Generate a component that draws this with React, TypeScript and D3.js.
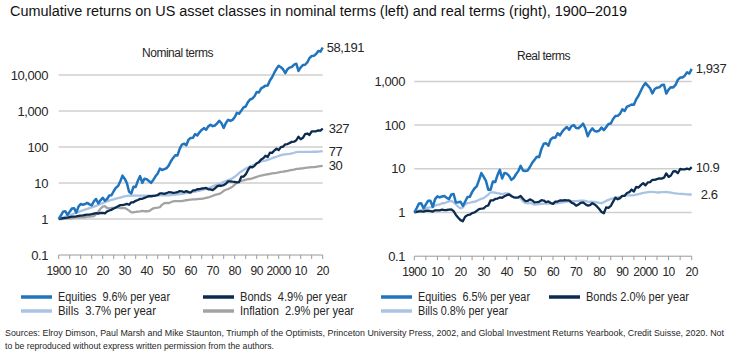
import React from 'react';
import * as d3 from 'd3';

const START_YEAR = 1900;
const END_YEAR = 2020;

const NOM_EQUITIES = [
  1, 1.25, 1.6, 1.65, 1.3, 1.6, 1.95, 2.0, 1.5, 2.2,
  2.6, 2.5, 2.6, 2.8, 2.55, 2.4, 3.1, 3.6, 2.7, 3.3,
  3.9, 3.2, 3.6, 4.5, 4.6, 5.9, 7.4, 8.2, 11.2, 16.0,
  13.2, 9.9, 5.7, 5.1, 7.9, 7.8, 11.6, 15.5, 10.1, 13.2,
  12.7, 11.4, 10.1, 12.2, 15.3, 18.4, 25.0, 23.0, 24.3, 25.7,
  30.4, 40.1, 49.7, 58.9, 58.2, 88.8, 117, 124, 112, 159,
  179, 180, 228, 208, 256, 298, 335, 301, 374, 415,
  380, 395, 452, 537, 458, 337, 462, 572, 531, 566,
  671, 887, 844, 1025, 1256, 1335, 1764, 2090, 2199, 2569,
  3378, 3273, 4271, 4596, 5060, 5126, 7053, 8676, 11570, 14890,
  18010, 16370, 14430, 11240, 14460, 16040, 16830, 19490, 20560, 12950,
  16380, 18860, 19250, 22330, 29570, 33620, 34080, 38170, 46490, 44440,
  58191,
];

const NOM_BONDS = [
  1.0, 1.03, 1.06, 1.08, 1.09, 1.13, 1.16, 1.17, 1.18, 1.22,
  1.24, 1.26, 1.3, 1.32, 1.33, 1.37, 1.42, 1.46, 1.41, 1.47,
  1.48, 1.43, 1.62, 1.72, 1.8, 1.96, 2.08, 2.25, 2.43, 2.43,
  2.52, 2.62, 2.48, 2.91, 2.91, 3.2, 3.37, 3.62, 3.64, 3.85,
  4.08, 4.31, 4.28, 4.41, 4.49, 4.64, 5.12, 5.16, 5.01, 5.2,
  5.53, 5.51, 5.3, 5.37, 5.55, 5.97, 5.89, 5.55, 5.97, 5.57,
  5.45, 6.2, 6.26, 6.7, 6.78, 7.03, 7.07, 7.32, 6.64, 6.66,
  6.32, 7.09, 8.03, 8.49, 8.38, 8.76, 9.55, 11.1, 11.1, 10.9,
  10.8, 10.4, 10.6, 14.9, 15.0, 17.3, 22.7, 28.1, 27.2, 30.0,
  35.4, 37.6, 44.9, 48.5, 57.2, 52.8, 69.5, 68.8, 79.9, 90.3,
  82.4, 99.4, 102.5, 118.8, 120.8, 130, 139, 140.6, 154, 193,
  165, 180, 229, 237, 216, 272, 270, 273, 290, 286,
  327,
];

const NOM_BILLS = [
  1.0, 1.05, 1.1, 1.16, 1.22, 1.28, 1.35, 1.42, 1.5, 1.57,
  1.65, 1.73, 1.82, 1.91, 2.01, 2.11, 2.21, 2.32, 2.45, 2.6,
  2.76, 2.94, 3.1, 3.24, 3.38, 3.52, 3.66, 3.8, 3.95, 4.1,
  4.28, 4.38, 4.42, 4.44, 4.45, 4.45, 4.46, 4.46, 4.46, 4.46,
  4.46, 4.46, 4.47, 4.48, 4.49, 4.5, 4.51, 4.52, 4.53, 4.55,
  4.57, 4.63, 4.7, 4.78, 4.87, 4.91, 4.99, 5.12, 5.28, 5.36,
  5.52, 5.67, 5.8, 5.96, 6.14, 6.35, 6.6, 6.9, 7.19, 7.56,
  8.06, 8.58, 8.96, 9.3, 9.96, 10.8, 11.4, 12.0, 12.6, 13.5,
  14.9, 16.6, 19.0, 21.0, 22.9, 25.1, 27.0, 28.7, 30.3, 32.2,
  34.9, 37.6, 39.6, 40.9, 42.1, 43.8, 46.3, 48.7, 51.3, 53.7,
  56.3, 59.6, 61.6, 62.6, 63.2, 64.0, 66.0, 69.2, 72.3, 73.3,
  73.4, 73.5, 73.5, 73.6, 73.6, 73.6, 73.7, 73.9, 74.5, 75.9,
  77.3,
];

const INFLATION = [
  1.0, 1.0, 1.0, 1.02, 1.04, 1.04, 1.05, 1.08, 1.12, 1.09,
  1.11, 1.13, 1.12, 1.17, 1.17, 1.18, 1.2, 1.36, 1.6, 1.93,
  2.22, 2.27, 2.02, 1.98, 2.02, 2.02, 2.09, 2.07, 2.02, 2.0,
  2.01, 1.88, 1.71, 1.53, 1.54, 1.57, 1.61, 1.64, 1.68, 1.64,
  1.64, 1.65, 1.81, 1.98, 2.04, 2.08, 2.13, 2.51, 2.74, 2.82,
  2.76, 2.92, 3.1, 3.12, 3.15, 3.12, 3.13, 3.23, 3.32, 3.38,
  3.44, 3.49, 3.51, 3.56, 3.61, 3.65, 3.72, 3.85, 3.96, 4.15,
  4.41, 4.65, 4.81, 4.97, 5.4, 6.07, 6.49, 6.81, 7.26, 7.92,
  8.97, 10.1, 11.0, 11.4, 11.8, 12.3, 12.8, 12.9, 13.5, 14.1,
  14.7, 15.6, 16.1, 16.6, 17.1, 17.5, 18.0, 18.5, 18.9, 19.2,
  19.7, 20.4, 20.7, 21.2, 21.6, 22.3, 23.0, 23.6, 24.6, 24.6,
  25.3, 25.6, 26.4, 26.9, 27.3, 27.5, 27.7, 28.2, 28.8, 29.4,
  30.0,
];

const REAL_EQUITIES = [
  1.0, 1.25, 1.6, 1.62, 1.25, 1.54, 1.86, 1.85, 1.34, 2.02,
  2.34, 2.21, 2.32, 2.39, 2.18, 2.03, 2.58, 2.65, 1.69, 1.71,
  1.76, 1.41, 1.78, 2.27, 2.28, 2.92, 3.54, 3.96, 5.54, 8.0,
  6.57, 5.27, 3.33, 3.33, 5.13, 4.97, 7.2, 9.45, 6.01, 8.05,
  7.74, 6.91, 5.58, 6.16, 7.5, 8.85, 11.7, 9.16, 8.87, 9.11,
  11.0, 13.7, 16.0, 18.9, 18.5, 28.5, 37.4, 38.4, 33.7, 47.0,
  52.0, 51.6, 65.0, 58.4, 70.9, 81.6, 90.1, 78.2, 94.4, 100,
  86.2, 84.9, 94.0, 108, 84.8, 55.5, 71.2, 84.0, 73.1, 71.5,
  74.8, 87.8, 76.7, 89.9, 106, 109, 138, 162, 163, 182,
  230, 210, 265, 277, 296, 293, 392, 469, 612, 776,
  914, 802, 697, 530, 669, 719, 732, 826, 836, 526,
  647, 737, 729, 830, 1083, 1223, 1230, 1354, 1614, 1512,
  1937,
];

const REAL_BONDS = [
  1.0, 1.03, 1.06, 1.06, 1.05, 1.09, 1.1, 1.08, 1.05, 1.12,
  1.12, 1.12, 1.16, 1.13, 1.14, 1.16, 1.18, 1.07, 0.88, 0.76,
  0.67, 0.63, 0.8, 0.87, 0.89, 0.97, 1.0, 1.09, 1.2, 1.22,
  1.25, 1.39, 1.45, 1.9, 1.89, 2.04, 2.09, 2.21, 2.17, 2.35,
  2.49, 2.61, 2.36, 2.23, 2.2, 2.23, 2.4, 2.06, 1.83, 1.84,
  2.0, 1.89, 1.71, 1.72, 1.76, 1.91, 1.88, 1.72, 1.8, 1.65,
  1.58, 1.78, 1.78, 1.88, 1.88, 1.93, 1.9, 1.9, 1.68, 1.6,
  1.43, 1.52, 1.67, 1.71, 1.55, 1.44, 1.47, 1.63, 1.53, 1.38,
  1.2, 1.03, 0.96, 1.31, 1.27, 1.41, 1.77, 2.18, 2.01, 2.13,
  2.41, 2.41, 2.79, 2.92, 3.35, 3.02, 3.86, 3.72, 4.23, 4.7,
  4.18, 4.87, 4.95, 5.6, 5.59, 5.83, 6.04, 5.96, 6.26, 7.85,
  6.52, 7.03, 8.67, 8.81, 7.91, 9.89, 9.75, 9.68, 10.07, 9.73,
  10.9,
];

const REAL_BILLS = [
  1.0, 1.05, 1.1, 1.14, 1.17, 1.23, 1.29, 1.31, 1.34, 1.44,
  1.49, 1.53, 1.63, 1.63, 1.72, 1.79, 1.84, 1.71, 1.53, 1.35,
  1.24, 1.3, 1.53, 1.64, 1.67, 1.74, 1.75, 1.84, 1.96, 2.05,
  2.13, 2.33, 2.58, 2.9, 2.89, 2.83, 2.77, 2.72, 2.65, 2.72,
  2.72, 2.7, 2.47, 2.26, 2.2, 2.16, 2.12, 1.8, 1.65, 1.61,
  1.66, 1.59, 1.52, 1.53, 1.55, 1.57, 1.59, 1.59, 1.59, 1.59,
  1.6, 1.62, 1.65, 1.67, 1.7, 1.74, 1.77, 1.79, 1.82, 1.82,
  1.83, 1.85, 1.86, 1.87, 1.84, 1.78, 1.76, 1.76, 1.74, 1.7,
  1.66, 1.64, 1.73, 1.84, 1.94, 2.04, 2.11, 2.22, 2.24, 2.28,
  2.37, 2.41, 2.46, 2.46, 2.46, 2.5, 2.57, 2.63, 2.71, 2.8,
  2.86, 2.92, 2.98, 2.95, 2.93, 2.87, 2.87, 2.93, 2.94, 2.98,
  2.9, 2.87, 2.78, 2.74, 2.7, 2.68, 2.66, 2.62, 2.59, 2.58,
  2.58,
];

const X_TICK_YEARS = [1900, 1910, 1920, 1930, 1940, 1950, 1960, 1970, 1980, 1990, 2000, 2010, 2020];
const X_TICK_LABELS = ['1900', '10', '20', '30', '40', '50', '60', '70', '80', '90', '2000', '10', '20'];
const LEFT_Y_TICKS = [0.1, 1, 10, 100, 1000, 10000];
const RIGHT_Y_TICKS = [0.1, 1, 10, 100, 1000];

const LEFT_END_LABELS = ['58,191', '327', '77', '30'];
const RIGHT_END_LABELS = ['1,937', '10.9', '2.6'];

const LEGEND_LEFT_ROW1 = ['Equities  9.6% per year', 'Bonds  4.9% per year'];
const LEGEND_LEFT_ROW2 = ['Bills  3.7% per year', 'Inflation  2.9% per year'];
const LEGEND_RIGHT_ROW1 = ['Equities  6.5% per year', 'Bonds 2.0% per year'];
const LEGEND_RIGHT_ROW2 = ['Bills 0.8% per year'];

const TITLE = 'Cumulative returns on US asset classes in nominal terms (left) and real terms (right), 1900\u20132019';
const SOURCE1 = 'Sources: Elroy Dimson, Paul Marsh and Mike Staunton, Triumph of the Optimists, Princeton University Press, 2002, and Global Investment Returns Yearbook, Credit Suisse, 2020. Not';
const SOURCE2 = 'to be reproduced without express written permission from the authors.';

const C_EQ = '#1f74bd';
const C_BOND = '#0c2b4e';
const C_BILL = '#a8c3e3';
const C_INF = '#a3a3a3';
const C_GRID = '#cfcfcf';
const C_TEXT = '#262626';

const FONT = "'Liberation Sans', Arial, sans-serif";

const YEARS = NOM_EQUITIES.map((_, i) => START_YEAR + i);

type Series = { values: number[]; color: string; width: number; label: string; labelDx: number };

function Panel(props: {
  x0: number; x1: number; yTop: number; yBottom: number; domainTop: number;
  ticks: number[]; labelRight: number; title: string; titleX: number; titleY: number;
  series: Series[];
}) {
  const { x0, x1, yTop, yBottom, domainTop, ticks, labelRight, title, titleX, titleY, series } = props;
  const x = d3.scaleLinear().domain([START_YEAR, END_YEAR]).range([x0, x1]);
  const y = d3.scaleLog().domain([0.1, domainTop]).range([yBottom, yTop]);
  const fmt = d3.format(',');
  const line = d3.line<number>().x((_, i) => x(YEARS[i])).y((d) => y(d));
  const minorTicks = d3.range(START_YEAR, END_YEAR + 1, 5);
  return (
    <g>
      <text x={titleX} y={titleY} textAnchor="middle" fontFamily={FONT} fontSize={12} letterSpacing={-0.5} fill={C_TEXT}>{title}</text>
      {ticks.filter((t) => t > 0.1).map((t) => (
        <line key={t} x1={x0} x2={x1} y1={y(t)} y2={y(t)} stroke={C_GRID} strokeWidth={1.5} />
      ))}
      <line x1={x0} x2={x1} y1={y(0.1)} y2={y(0.1)} stroke="#9a9a9a" strokeWidth={1} />
      {minorTicks.map((t) => (
        <line key={t} x1={x(t)} x2={x(t)} y1={y(0.1)} y2={y(0.1) + 4} stroke="#9a9a9a" strokeWidth={1} />
      ))}
      {ticks.map((t) => (
        <text key={t} x={labelRight} y={y(t)} dy="0.35em" textAnchor="end" fontFamily={FONT} fontSize={13} letterSpacing={-0.4} fill={C_TEXT}>{fmt(t)}</text>
      ))}
      {X_TICK_YEARS.map((t, i) => (
        <text key={t} x={x(t)} y={y(0.1) + 20} textAnchor="middle" fontFamily={FONT} fontSize={12} letterSpacing={-0.6} fill={C_TEXT}>{X_TICK_LABELS[i]}</text>
      ))}
      {series.map((s, i) => (
        <path key={i} d={line(s.values) || ''} fill="none" stroke={s.color} strokeWidth={s.width} strokeLinejoin="round" />
      ))}
      {series.filter((s) => s.label).map((s, i) => (
        <text key={i} x={x(END_YEAR) + s.labelDx} y={y(s.values[s.values.length - 1])} dy="0.35em" fontFamily={FONT} fontSize={13} letterSpacing={-0.4} fill={C_TEXT}>{s.label}</text>
      ))}
    </g>
  );
}

function LegendItem(props: { x: number; y: number; color: string; text: string; w: number }) {
  const { x, y, color, text, w } = props;
  return (
    <g>
      <line x1={x} x2={x + 31} y1={y} y2={y} stroke={color} strokeWidth={3.5} />
      <text x={x + 37} y={y} dy="0.35em" fontFamily={FONT} fontSize={12} fill={C_TEXT} style={{ whiteSpace: 'pre' }} textLength={w} lengthAdjust="spacingAndGlyphs">{text}</text>
    </g>
  );
}

export default function App() {
  return (
    <svg width={740} height={355} style={{ position: 'absolute', left: 0, top: 0, background: '#fff' }}>
      <rect width={740} height={355} fill="#fff" />
      <text x={10} y={15.5} fontFamily={FONT} fontSize={14} fill="#111" textLength={617} lengthAdjust="spacingAndGlyphs">{TITLE}</text>
      <Panel
        x0={58.7} x1={322.7} yTop={75} yBottom={255} domainTop={10000}
        ticks={LEFT_Y_TICKS} labelRight={48} title="Nominal terms" titleX={177.5} titleY={57}
        series={[
          { values: INFLATION, color: C_INF, width: 2.3, label: LEFT_END_LABELS[3], labelDx: 6 },
          { values: NOM_BILLS, color: C_BILL, width: 2.3, label: LEFT_END_LABELS[2], labelDx: 6 },
          { values: NOM_BONDS, color: C_BOND, width: 2.3, label: LEFT_END_LABELS[1], labelDx: 6 },
          { values: NOM_EQUITIES, color: C_EQ, width: 2.5, label: LEFT_END_LABELS[0], labelDx: 4 },
        ]}
      />
      <Panel
        x0={414.3} x1={691.7} yTop={81.4} yBottom={256.2} domainTop={1000}
        ticks={RIGHT_Y_TICKS} labelRight={405} title="Real terms" titleX={543.5} titleY={60}
        series={[
          { values: REAL_BILLS, color: C_BILL, width: 2.3, label: RIGHT_END_LABELS[2], labelDx: 9 },
          { values: REAL_BONDS, color: C_BOND, width: 2.3, label: RIGHT_END_LABELS[1], labelDx: 4 },
          { values: REAL_EQUITIES, color: C_EQ, width: 2.5, label: RIGHT_END_LABELS[0], labelDx: 4 },
        ]}
      />
      <LegendItem x={21} y={297} color={C_EQ} text={LEGEND_LEFT_ROW1[0]} w={112} />
      <LegendItem x={203} y={297} color={C_BOND} text={LEGEND_LEFT_ROW1[1]} w={107} />
      <LegendItem x={21} y={311} color={C_BILL} text={LEGEND_LEFT_ROW2[0]} w={98} />
      <LegendItem x={203} y={311} color={C_INF} text={LEGEND_LEFT_ROW2[1]} w={114} />
      <LegendItem x={381} y={297} color={C_EQ} text={LEGEND_RIGHT_ROW1[0]} w={112} />
      <LegendItem x={549} y={297} color={C_BOND} text={LEGEND_RIGHT_ROW1[1]} w={103} />
      <LegendItem x={381} y={311} color={C_BILL} text={LEGEND_RIGHT_ROW2[0]} w={90} />
      <text x={5} y={336} fontFamily={FONT} fontSize={9} fill={C_TEXT} textLength={719} lengthAdjust="spacingAndGlyphs">{SOURCE1}</text>
      <text x={5} y={348.5} fontFamily={FONT} fontSize={9} fill={C_TEXT} textLength={269} lengthAdjust="spacingAndGlyphs">{SOURCE2}</text>
    </svg>
  );
}
